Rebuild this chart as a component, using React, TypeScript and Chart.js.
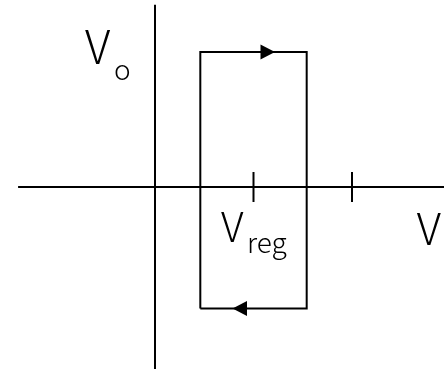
import { useEffect, useRef } from "react";
import { Chart, registerables } from "chart.js";

Chart.register(...registerables);

// Data (arbitrary units: Vreg = 1 on the input axis, high output = 1)
const inputAxisRange = [-1.39, 2.94];
const outputAxisRange = [-1.36, 1.35];
const tickValues = [1, 2];
const tickHalfLength = 0.111;
const loopInputs = [0.46, 0.46, 1.54, 1.54, 0.46];
const loopOutputs = [-0.9, 1, 1, -0.9, -0.9];
// arrowheads on the loop: tip position and direction (+1 = increasing input, -1 = decreasing)
const arrowTipInputs = [1.218, 0.787];
const arrowOutputs = [1, -0.9];
const arrowDirections = [1, -1];

const X_MIN = -1.5736;
const X_MAX = 2.934;
const Y_MIN = -1.348;
const Y_MAX = 1.385;

type Label = { main: string; sub: string; x: number; y: number; size: number; subSize: number; subDx: number; subDy: number };

const labels: Label[] = [
  { main: "V", sub: "o", x: -0.711, y: 0.909, size: 46, subSize: 28, subDx: 29, subDy: 15.7 },
  { main: "V", sub: "reg", x: 0.67, y: -0.405, size: 41, subSize: 28, subDx: 26, subDy: 11.6 },
  { main: "V", sub: "", x: 2.657, y: -0.43, size: 44, subSize: 26, subDx: 0, subDy: 0 },
];

const FONT = '"Noto Sans CJK KR", "Noto Sans", sans-serif';

const labelPlugin = {
  id: "subLabels",
  afterDatasetsDraw(chart: any) {
    const { ctx, scales } = chart;
    ctx.save();
    ctx.fillStyle = "#000";
    // arrowheads
    arrowTipInputs.forEach((xv, i) => {
      const tx = scales.x.getPixelForValue(xv);
      const ty = scales.y.getPixelForValue(arrowOutputs[i]);
      const d = arrowDirections[i];
      ctx.beginPath();
      ctx.moveTo(tx, ty);
      ctx.lineTo(tx - d * 14.5, ty - 7.5);
      ctx.lineTo(tx - d * 14.5, ty + 7.5);
      ctx.closePath();
      ctx.fill();
    });
    ctx.textBaseline = "alphabetic";
    ctx.textAlign = "left";
    for (const l of labels) {
      const px = scales.x.getPixelForValue(l.x);
      const py = scales.y.getPixelForValue(l.y);
      ctx.font = `300 ${l.size}px ${FONT}`;
      ctx.fillText(l.main, px, py);
      if (l.sub) {
        ctx.font = `300 ${l.subSize}px ${FONT}`;
        ctx.fillText(l.sub, px + l.subDx, py + l.subDy);
      }
    }
    ctx.restore();
  },
};

export default function App() {
  const ref = useRef<HTMLCanvasElement | null>(null);

  useEffect(() => {
    document.body.style.margin = "0";
    if (!ref.current) return;
    const line = (data: { x: number; y: number }[]) => ({
      type: "line" as const,
      data,
      borderColor: "#000",
      borderWidth: 2,
      pointRadius: 0,
      fill: false,
      tension: 0,
      borderJoinStyle: "miter" as const,
      clip: false as any,
    });
    const datasets: any[] = [
      line(inputAxisRange.map((x) => ({ x, y: 0 }))),
      line(outputAxisRange.map((y) => ({ x: 0, y }))),
      ...tickValues.map((t) => line([{ x: t, y: -tickHalfLength }, { x: t, y: tickHalfLength }])),
      line(loopInputs.map((x, i) => ({ x, y: loopOutputs[i] }))),
    ];
    const chart = new Chart(ref.current, {
      type: "scatter",
      data: { datasets },
      options: {
        animation: false,
        responsive: false,
        devicePixelRatio: 1,
        layout: { padding: 0, autoPadding: false },
        plugins: { legend: { display: false }, tooltip: { enabled: false } },
        events: [],
        scales: {
          x: { type: "linear", display: false, min: X_MIN, max: X_MAX },
          y: { type: "linear", display: false, min: Y_MIN, max: Y_MAX },
        },
      },
      plugins: [labelPlugin],
    });
    return () => chart.destroy();
  }, []);

  return (
    <div style={{ position: "fixed", left: 0, top: 0, width: 444, height: 369, background: "#fff" }}>
      <canvas ref={ref} width={444} height={369} />
    </div>
  );
}
